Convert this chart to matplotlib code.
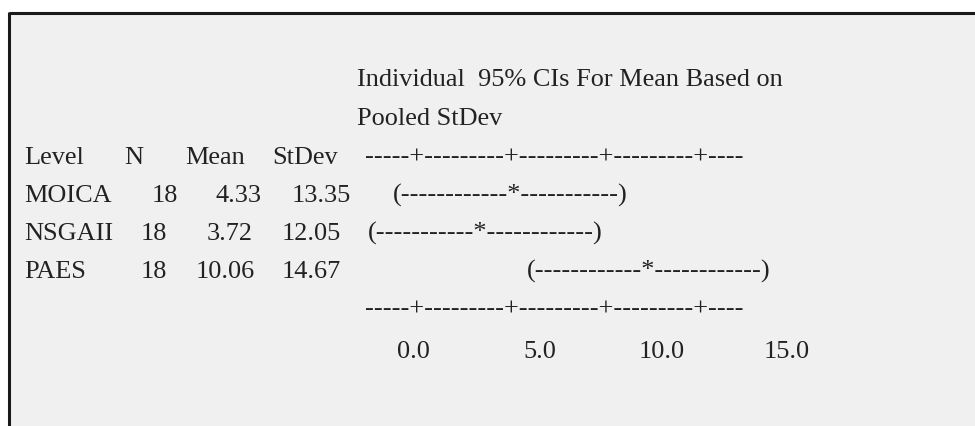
import matplotlib
matplotlib.use("Agg")
import matplotlib.pyplot as plt
from matplotlib.patches import Rectangle

# One-way ANOVA summary: individual 95% CIs for the mean (pooled StDev)
levels = ["MOICA", "NSGAII", "PAES"]
n_obs = [18, 18, 18]
means = [4.33, 3.72, 10.06]
stdevs = [13.35, 12.05, 14.67]
ci_left_dashes = [12, 11, 12]
ci_right_dashes = [11, 12, 12]
tick_labels = ["0.0", "5.0", "10.0", "15.0"]

title_lines = ["Individual  95% CIs For Mean Based on", "Pooled StDev"]
header = ["Level", "N", "Mean", "StDev"]
axis_rule = "-----+---------+---------+---------+----"

W, H = 975, 426
fig = plt.figure(figsize=(W / 100, H / 100), dpi=100)
ax = fig.add_axes([0, 0, 1, 1])
ax.set_xlim(0, W)
ax.set_ylim(H, 0)
ax.axis("off")

# panel background and frame (top and left edges)
ax.add_patch(Rectangle((9, 13), W, H, facecolor="#f0f0f0", edgecolor="none"))
ax.plot([8.5, W], [13, 13], color="#1a1a1a", lw=2.2, solid_capstyle="butt")
ax.plot([8.5, 8.5], [12, H], color="#1a1a1a", lw=2.2, solid_capstyle="butt")

font = dict(family="Liberation Serif", fontsize=18.9, color="#222222")
cap = 8  # half cap height in px, to put text centres on row lines


def put(x, y, s, ha="left"):
    ax.text(x, y + cap, s, ha=ha, va="baseline", **font)


rows_y = [156, 194, 232, 270]
put(357, 78, title_lines[0])
put(357, 117, title_lines[1])

# column header
for x, s in zip([24, 124, 185, 272], header):
    put(x, rows_y[0], s)
put(365, rows_y[0], axis_rule)

# per-level rows
col_n = [152, 141, 141]
col_mean = [216, 207, 196]
col_sd = [292, 282, 282]
col_ci = [393, 368, 527]
for i, lev in enumerate(levels):
    y = rows_y[i + 1]
    put(24, y, lev)
    put(col_n[i], y, f"{n_obs[i]}")
    put(col_mean[i], y, f"{means[i]:.2f}")
    put(col_sd[i], y, f"{stdevs[i]:.2f}")
    ci = "(" + "-" * ci_left_dashes[i] + "*" + "-" * ci_right_dashes[i] + ")"
    put(col_ci[i], y, ci)

# bottom scale
put(365, 308, axis_rule)
for x, s in zip([413, 540, 662, 787], tick_labels):
    put(x, 350, s, ha="center")

fig.savefig("out.png", dpi=100, facecolor="white")
